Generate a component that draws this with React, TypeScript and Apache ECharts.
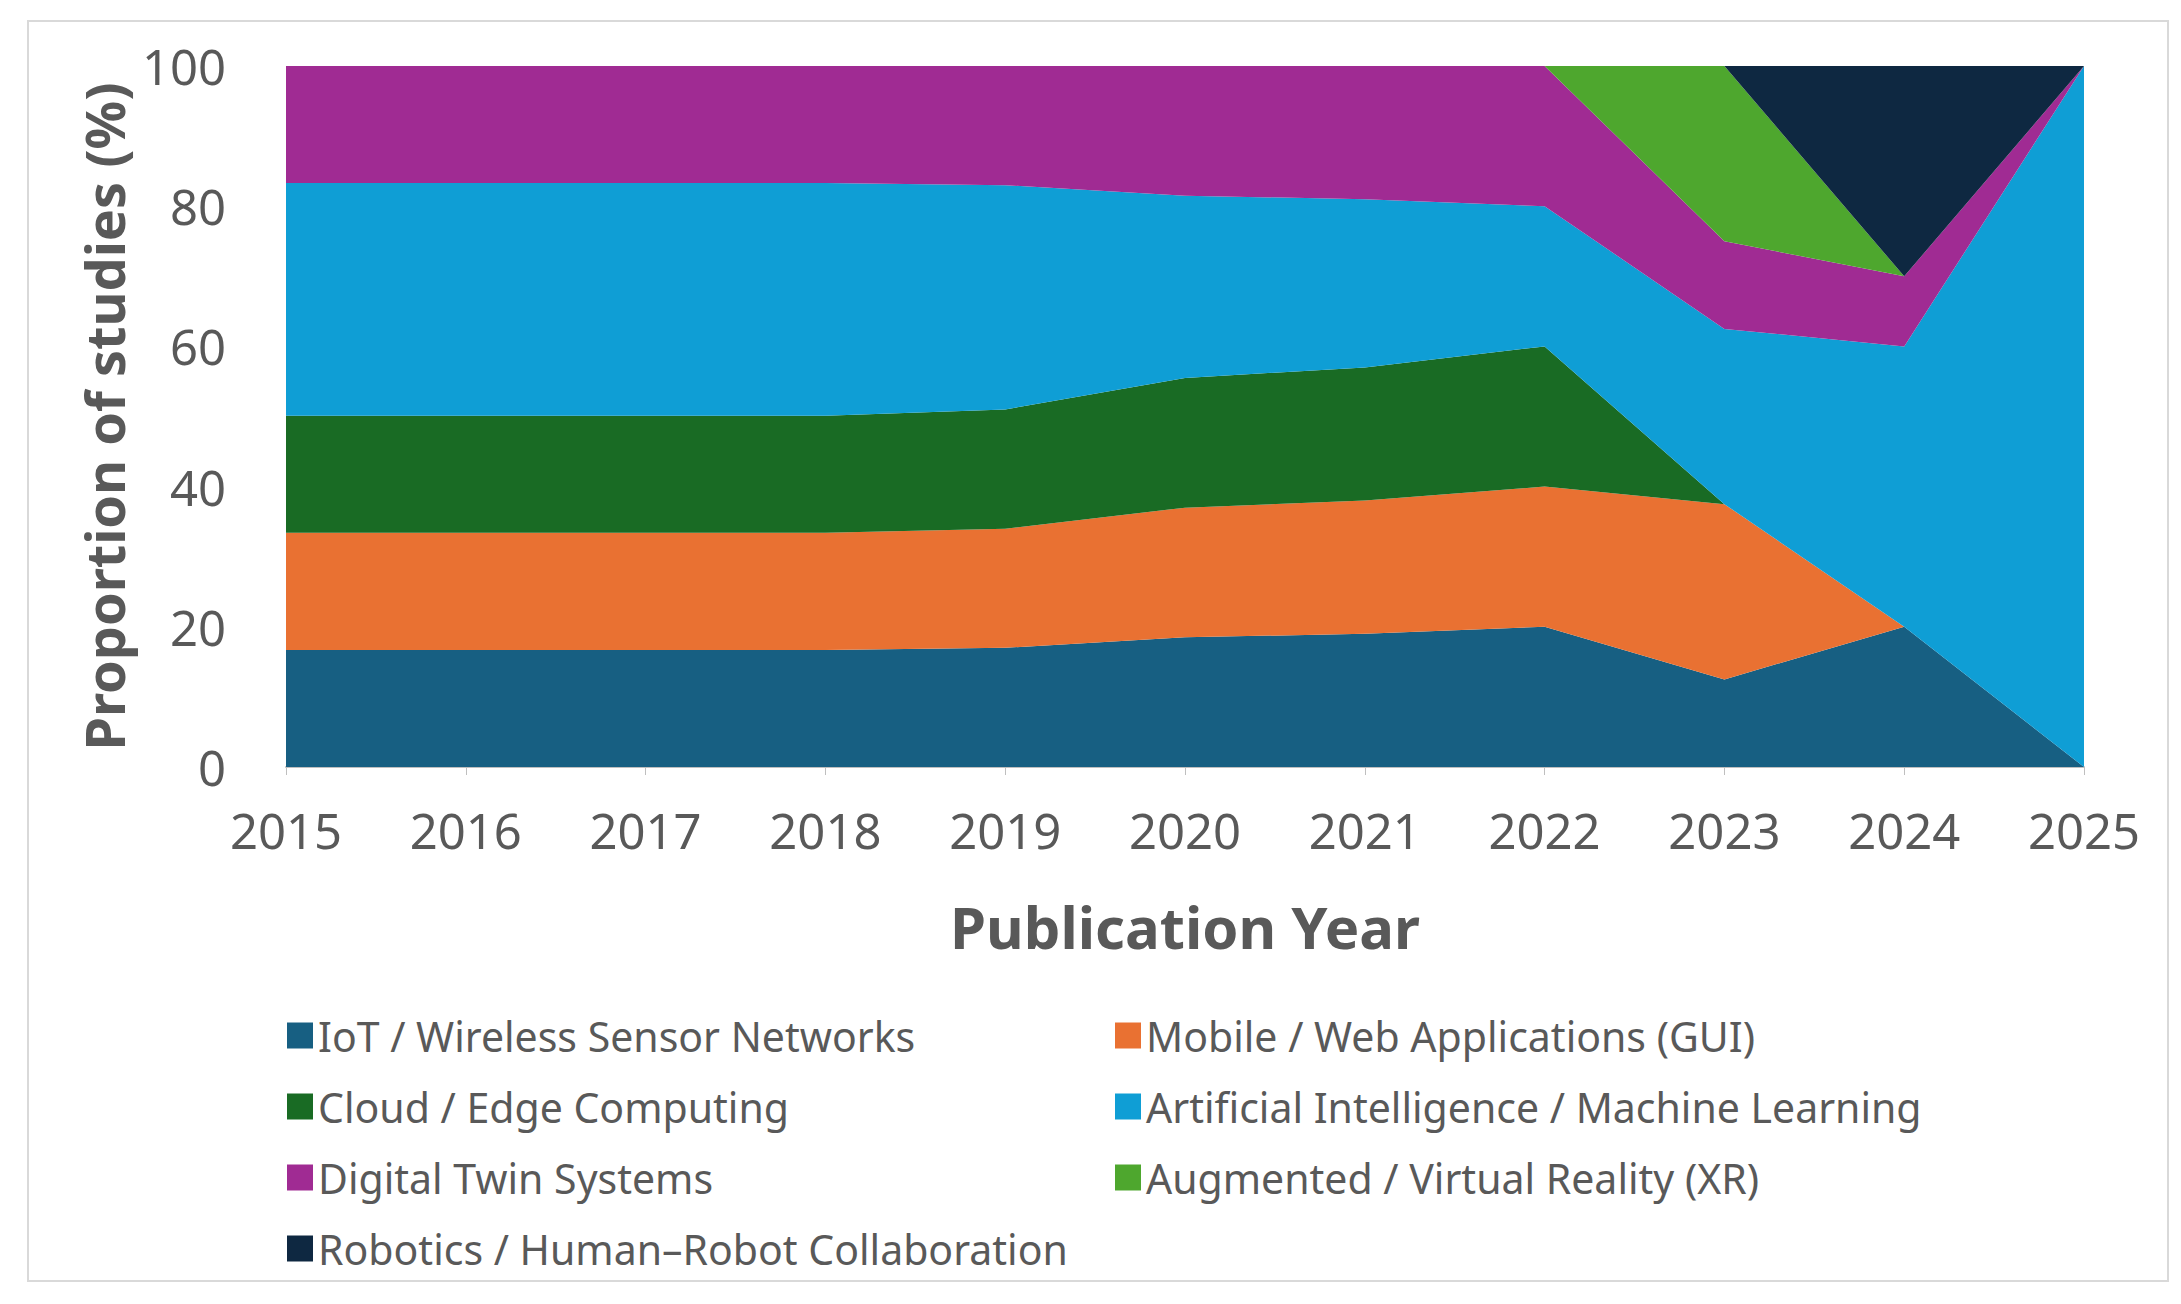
import { useRef, useEffect } from 'react';
import * as echarts from 'echarts';

const years = ['2015', '2016', '2017', '2018', '2019', '2020', '2021', '2022', '2023', '2024', '2025'];

const iot = [16.7, 16.7, 16.7, 16.7, 17, 18.5, 19, 20, 12.5, 20, 0];
const mobile = [16.7, 16.7, 16.7, 16.7, 17, 18.5, 19, 20, 25, 0, 0];
const cloud = [16.7, 16.7, 16.7, 16.7, 17, 18.5, 19, 20, 0, 0, 0];
const ai = [33.2, 33.2, 33.2, 33.2, 32, 26, 24, 20, 25, 40, 100];
const twin = [16.7, 16.7, 16.7, 16.7, 17, 18.5, 19, 20, 12.5, 10, 0];
const xr = [0, 0, 0, 0, 0, 0, 0, 0, 25, 0, 0];
const robotics = [0, 0, 0, 0, 0, 0, 0, 0, 0, 30, 0];

const seriesDefs = [
  { name: 'IoT / Wireless Sensor Networks', data: iot, color: '#175f82' },
  { name: 'Mobile / Web Applications (GUI)', data: mobile, color: '#e97132' },
  { name: 'Cloud / Edge Computing', data: cloud, color: '#196b24' },
  { name: 'Artificial Intelligence / Machine Learning', data: ai, color: '#0f9ed5' },
  { name: 'Digital Twin Systems', data: twin, color: '#a02b93' },
  { name: 'Augmented / Virtual Reality (XR)', data: xr, color: '#4ea72e' },
  { name: 'Robotics / Human\u2013Robot Collaboration', data: robotics, color: '#0e2841' },
];

const FONT = '"Noto Sans", "Open Sans", sans-serif';

export default function App() {
  const ref = useRef<HTMLDivElement>(null);

  useEffect(() => {
    if (!ref.current) return;
    const chart = echarts.init(ref.current, undefined, { renderer: 'svg' });
    const legendBase = {
      orient: 'vertical' as const,
      top: 1005,
      itemWidth: 26,
      itemHeight: 26,
      itemGap: 20,
      icon: 'rect',
      selectedMode: false,
      textStyle: { fontSize: 41, color: '#595959', fontFamily: FONT, lineHeight: 51 },
    };
    chart.setOption({
      animation: false,
      backgroundColor: '#ffffff',
      textStyle: { fontFamily: FONT },
      grid: { left: 286, right: 97, top: 66, bottom: 537 },
      graphic: [
        {
          type: 'rect',
          shape: { x: 28, y: 21, width: 2140, height: 1260 },
          style: { fill: 'none', stroke: '#d9d9d9', lineWidth: 2 },
          silent: true,
        },
      ],
      legend: [
        { ...legendBase, left: 282, data: [seriesDefs[0].name, seriesDefs[2].name, seriesDefs[4].name, seriesDefs[6].name] },
        { ...legendBase, left: 1110, data: [seriesDefs[1].name, seriesDefs[3].name, seriesDefs[5].name] },
      ],
      xAxis: {
        type: 'category',
        data: years,
        boundaryGap: false,
        name: 'Publication Year',
        nameLocation: 'middle',
        nameGap: 130,
        nameTextStyle: { fontSize: 58, fontWeight: 'bold', color: '#595959', fontFamily: FONT },
        axisLine: { lineStyle: { color: '#bfbfbf', width: 2 } },
        axisTick: { show: true, length: 8, lineStyle: { color: '#bfbfbf' } },
        axisLabel: { fontSize: 49, color: '#595959', margin: 38, fontFamily: FONT },
      },
      yAxis: {
        type: 'value',
        min: 0,
        max: 100,
        interval: 20,
        name: 'Proportion of studies (%)',
        nameLocation: 'middle',
        nameGap: 155,
        nameTextStyle: { fontSize: 54, fontWeight: 'bold', color: '#595959', fontFamily: FONT },
        axisLine: { show: false },
        axisTick: { show: false },
        splitLine: { show: false },
        axisLabel: { fontSize: 49, color: '#595959', margin: 60, fontFamily: FONT },
      },
      series: seriesDefs.map((s) => ({
        name: s.name,
        type: 'line',
        stack: 'total',
        data: s.data,
        symbol: 'none',
        lineStyle: { width: 0 },
        itemStyle: { color: s.color },
        areaStyle: { color: s.color, opacity: 1 },
      })),
    });
    return () => chart.dispose();
  }, []);

  return <div ref={ref} style={{ position: 'fixed', left: 0, top: 0, width: 2181, height: 1304 }} />;
}
